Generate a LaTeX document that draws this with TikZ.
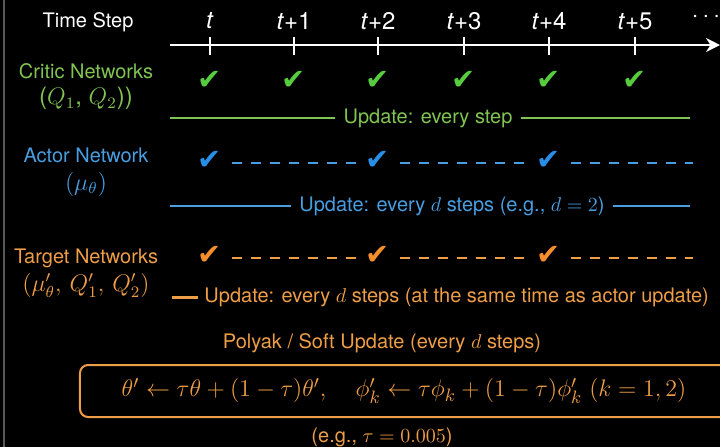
\documentclass[tikz,border=0pt]{standalone}
\usepackage{fontspec}
\setmainfont{TeX Gyre Heros}
\newfontfamily\symfont{DejaVu Sans}
\usetikzlibrary{arrows.meta}

\definecolor{critic}{RGB}{128,196,82}
\definecolor{criticchk}{RGB}{86,204,62}
\definecolor{actor}{RGB}{72,158,224}
\definecolor{actorchk}{RGB}{40,142,232}
\definecolor{target}{RGB}{238,158,70}
\definecolor{targetchk}{RGB}{246,142,44}
\definecolor{edge}{RGB}{88,88,88}

\begin{document}
\begin{tikzpicture}[
        x=0.5pt, y=-0.5pt,
        txt/.style={font=\normalsize, align=center, inner sep=4pt},
        netlbl/.style={txt, inner sep=1pt},
        chk/.style={font=\symfont\Large, inner sep=0pt, minimum width=22pt},
        rule/.style={line width=1pt},
        dashline/.style={line width=1pt, dash pattern=on 5pt off 4.5pt},
        axis/.style={white, line width=1pt, -{Stealth[length=7pt,width=7pt]}}
    ]
    \fill[black] (0,0) rectangle (720,447);
    \clip (0,0) rectangle (720,447);
    \draw[edge, line width=1pt] (4,0) -- (4,447);

    % time axis
    \node[txt, white] (tstep) at (88,22) {Time Step};
    \coordinate (ax0) at (170,45);
    \coordinate (ax1) at (720,45);
    \draw[axis] (ax0) -- (ax1);
    \foreach \i/\x/\lab in {0/210/{\textit{t}}, 1/294/{\textit{t}+1}, 2/378/{\textit{t}+2},
                            3/464/{\textit{t}+3}, 4/549/{\textit{t}+4}, 5/635/{\textit{t}+5}} {
        \draw[white, line width=1pt] (\x,37) -- (\x,55);
        \node[txt, white, font=\large] (lab\i) at (\x,21) {\lab};
    }
    \node[txt, white, font=\large] (more) at (706,17) {$\cdots$};

    % critic
    \node[netlbl, critic] (critic) at (86,87) {Critic Networks\\[1pt]{\large($Q_1$, $Q_2$))}};
    \foreach \i/\x in {0/210, 1/294, 2/378, 3/464, 4/549, 5/635}
        \node[chk, criticchk] (c\i) at (\x,80) {✔};
    \node[txt, critic] (cupd) at (428,118) {Update: every step};
    \coordinate (cl0) at (170,118);
    \coordinate (cl1) at (690,118);
    \draw[rule, critic] (cl0) -- (cupd);
    \draw[rule, critic] (cupd) -- (cl1);

    % actor
    \node[netlbl, actor] (actor) at (86,172) {Actor Network\\[2pt]{\large$(\mu_\theta)$}};
    \foreach \i/\x in {0/210, 1/378, 2/549}
        \node[chk, actorchk] (a\i) at (\x,160) {✔};
    \coordinate (aend) at (693,163);
    \draw[dashline, actor] (a0.east |- aend) -- (a1.west |- aend);
    \draw[dashline, actor] (a1.east |- aend) -- (a2.west |- aend);
    \draw[dashline, actor] (a2.east |- aend) -- (aend);
    \node[txt, actor] (aupd) at (452,206) {Update: every $d$ steps (e.g., $d=2$)};
    \coordinate (al0) at (170,206);
    \coordinate (al1) at (690,206);
    \draw[rule, actor] (al0) -- (aupd);
    \draw[rule, actor] (aupd) -- (al1);

    % target
    \node[netlbl, target] (target) at (86,273) {Target Networks\\[2pt]{\large$(\mu'_\theta,\, Q'_1,\, Q'_2)$}};
    \foreach \i/\x in {0/210, 1/378, 2/549}
        \node[chk, targetchk] (g\i) at (\x,255) {✔};
    \coordinate (gend) at (693,258);
    \draw[dashline, target] (g0.east |- gend) -- (g1.west |- gend);
    \draw[dashline, target] (g1.east |- gend) -- (g2.west |- gend);
    \draw[dashline, target] (g2.east |- gend) -- (gend);
    \node[txt, target, inner sep=3pt, anchor=west] (gupd) at (198,297) {Update: every $d$ steps (at the same time as actor update)};
    \coordinate (gl0) at (172,297);
    \draw[target, line width=1.5pt] (gl0) -- (gupd);

    % soft update
    \node[txt, target] (polyak) at (382,343) {Polyak / Soft Update (every $d$ steps)};
    \draw[target, line width=1pt, rounded corners=4pt] (80,365) rectangle (740,417);
    \node[txt, target, font=\fontsize{12.6}{15}\selectfont] (formula) at (404,391)
        {$\theta' \leftarrow \tau\theta + (1-\tau)\theta', \quad
          \phi'_k \leftarrow \tau\phi_k + (1-\tau)\phi'_k\ (k=1,2)$};
    \node[txt, target] (tau) at (382,437) {(e.g., $\tau=0.005$)};
\end{tikzpicture}
\end{document}
